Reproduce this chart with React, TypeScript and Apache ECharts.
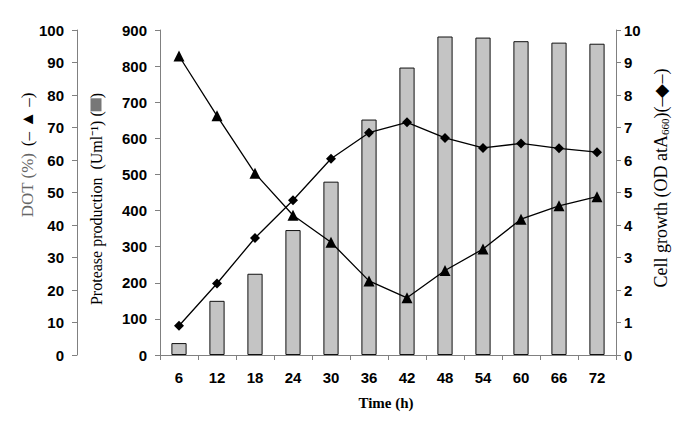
import React, { useEffect, useRef } from "react";
import * as echarts from "echarts";

const times = ["6", "12", "18", "24", "30", "36", "42", "48", "54", "60", "66", "72"];
const protease = [33, 150, 225, 346, 480, 652, 796, 882, 879, 869, 865, 862];
const dot = [92, 73.6, 55.9, 43, 34.7, 22.8, 17.6, 26, 32.6, 41.8, 45.9, 48.7];
const cellGrowth = [0.9, 2.2, 3.6, 4.76, 6.04, 6.84, 7.16, 6.68, 6.37, 6.51, 6.36, 6.24];

const protTicks = { min: 0, max: 900, interval: 100 };
const dotTicks = { min: 0, max: 100, interval: 10 };
const cellTicks = { min: 0, max: 10, interval: 1 };

const axisGray = "#808080";
const labelFont = { color: "#000", fontWeight: "bold" as const, fontSize: 15, fontFamily: "Liberation Sans, Arial, sans-serif" };
const serif = "Liberation Serif, Times New Roman, serif";

export default function App() {
  const ref = useRef<HTMLDivElement>(null);
  useEffect(() => {
    if (!ref.current) return;
    const chart = echarts.init(ref.current, undefined, { renderer: "svg" });
    const yBase = {
      type: "value" as const,
      splitLine: { show: false },
      axisLine: { show: true, lineStyle: { color: axisGray, width: 1 } },
      axisTick: { show: true, length: 5, inside: false, lineStyle: { color: axisGray } },
    };
    chart.setOption({
      animation: false,
      backgroundColor: "#fff",
      grid: { left: 160, right: 69, top: 30, bottom: 86, containLabel: false },
      xAxis: {
        type: "category",
        data: times,
        boundaryGap: true,
        axisLine: { lineStyle: { color: axisGray } },
        axisTick: { show: true, length: 5, alignWithLabel: false, lineStyle: { color: axisGray } },
        axisLabel: { ...labelFont, margin: 15 },
      },
      yAxis: [
        { ...yBase, position: "left", offset: 0, ...protTicks, axisLabel: { ...labelFont, margin: 13 } },
        { ...yBase, position: "left", offset: 83, ...dotTicks, axisLabel: { ...labelFont, margin: 13 } },
        { ...yBase, position: "right", offset: 0, ...cellTicks, axisLabel: { ...labelFont, margin: 8 } },
      ],
      series: [
        {
          type: "bar",
          yAxisIndex: 0,
          data: protease,
          barWidth: "40%",
          itemStyle: { color: "#c4c4c4", borderColor: "#111", borderWidth: 1 },
        },
        {
          type: "line",
          yAxisIndex: 1,
          data: dot,
          symbol: "triangle",
          symbolSize: 11,
          lineStyle: { color: "#000", width: 1.3 },
          itemStyle: { color: "#000" },
        },
        {
          type: "line",
          yAxisIndex: 2,
          data: cellGrowth,
          symbol: "diamond",
          symbolSize: 10,
          lineStyle: { color: "#000", width: 1.3 },
          itemStyle: { color: "#000" },
        },
      ],
      graphic: [
        {
          type: "text",
          x: 27,
          y: 155,
          rotation: Math.PI / 2,
          style: {
            text: "{g|DOT (%)}  {b|(– ▲ –)}",
            align: "center",
            verticalAlign: "middle",
            rich: {
              g: { fontFamily: serif, fontSize: 17, fill: "#666" },
              b: { fontFamily: serif, fontSize: 17, fill: "#000" },
            },
          },
        },
        {
          type: "text",
          x: 96,
          y: 199,
          rotation: Math.PI / 2,
          style: {
            text: "{a|Protease production  (Uml⁻¹) (}{box|}{a|)}",
            align: "center",
            verticalAlign: "middle",
            rich: {
              a: { fontFamily: serif, fontSize: 16, fill: "#000" },
              box: { width: 13, height: 11, backgroundColor: "#777", padding: 0 },
            },
          },
        },
        {
          type: "text",
          x: 661,
          y: 178,
          rotation: Math.PI / 2,
          style: {
            text: "{a|Cell growth (OD atA}{s|660}{a|)(–◆–)}",
            align: "center",
            verticalAlign: "middle",
            rich: {
              a: { fontFamily: serif, fontSize: 18, fill: "#000" },
              s: { fontFamily: serif, fontSize: 11, fill: "#000", verticalAlign: "bottom", padding: [5, 0, 0, 0] },
            },
          },
        },
        {
          type: "text",
          x: 386,
          y: 403,
          style: {
            text: "Time (h)",
            align: "center",
            verticalAlign: "middle",
            fontFamily: serif,
            fontWeight: "bold",
            fontSize: 15,
            fill: "#000",
          },
        },
      ],
    });
    return () => chart.dispose();
  }, []);
  return <div ref={ref} style={{ width: 685, height: 441, position: "absolute", left: 0, top: 0 }} />;
}
